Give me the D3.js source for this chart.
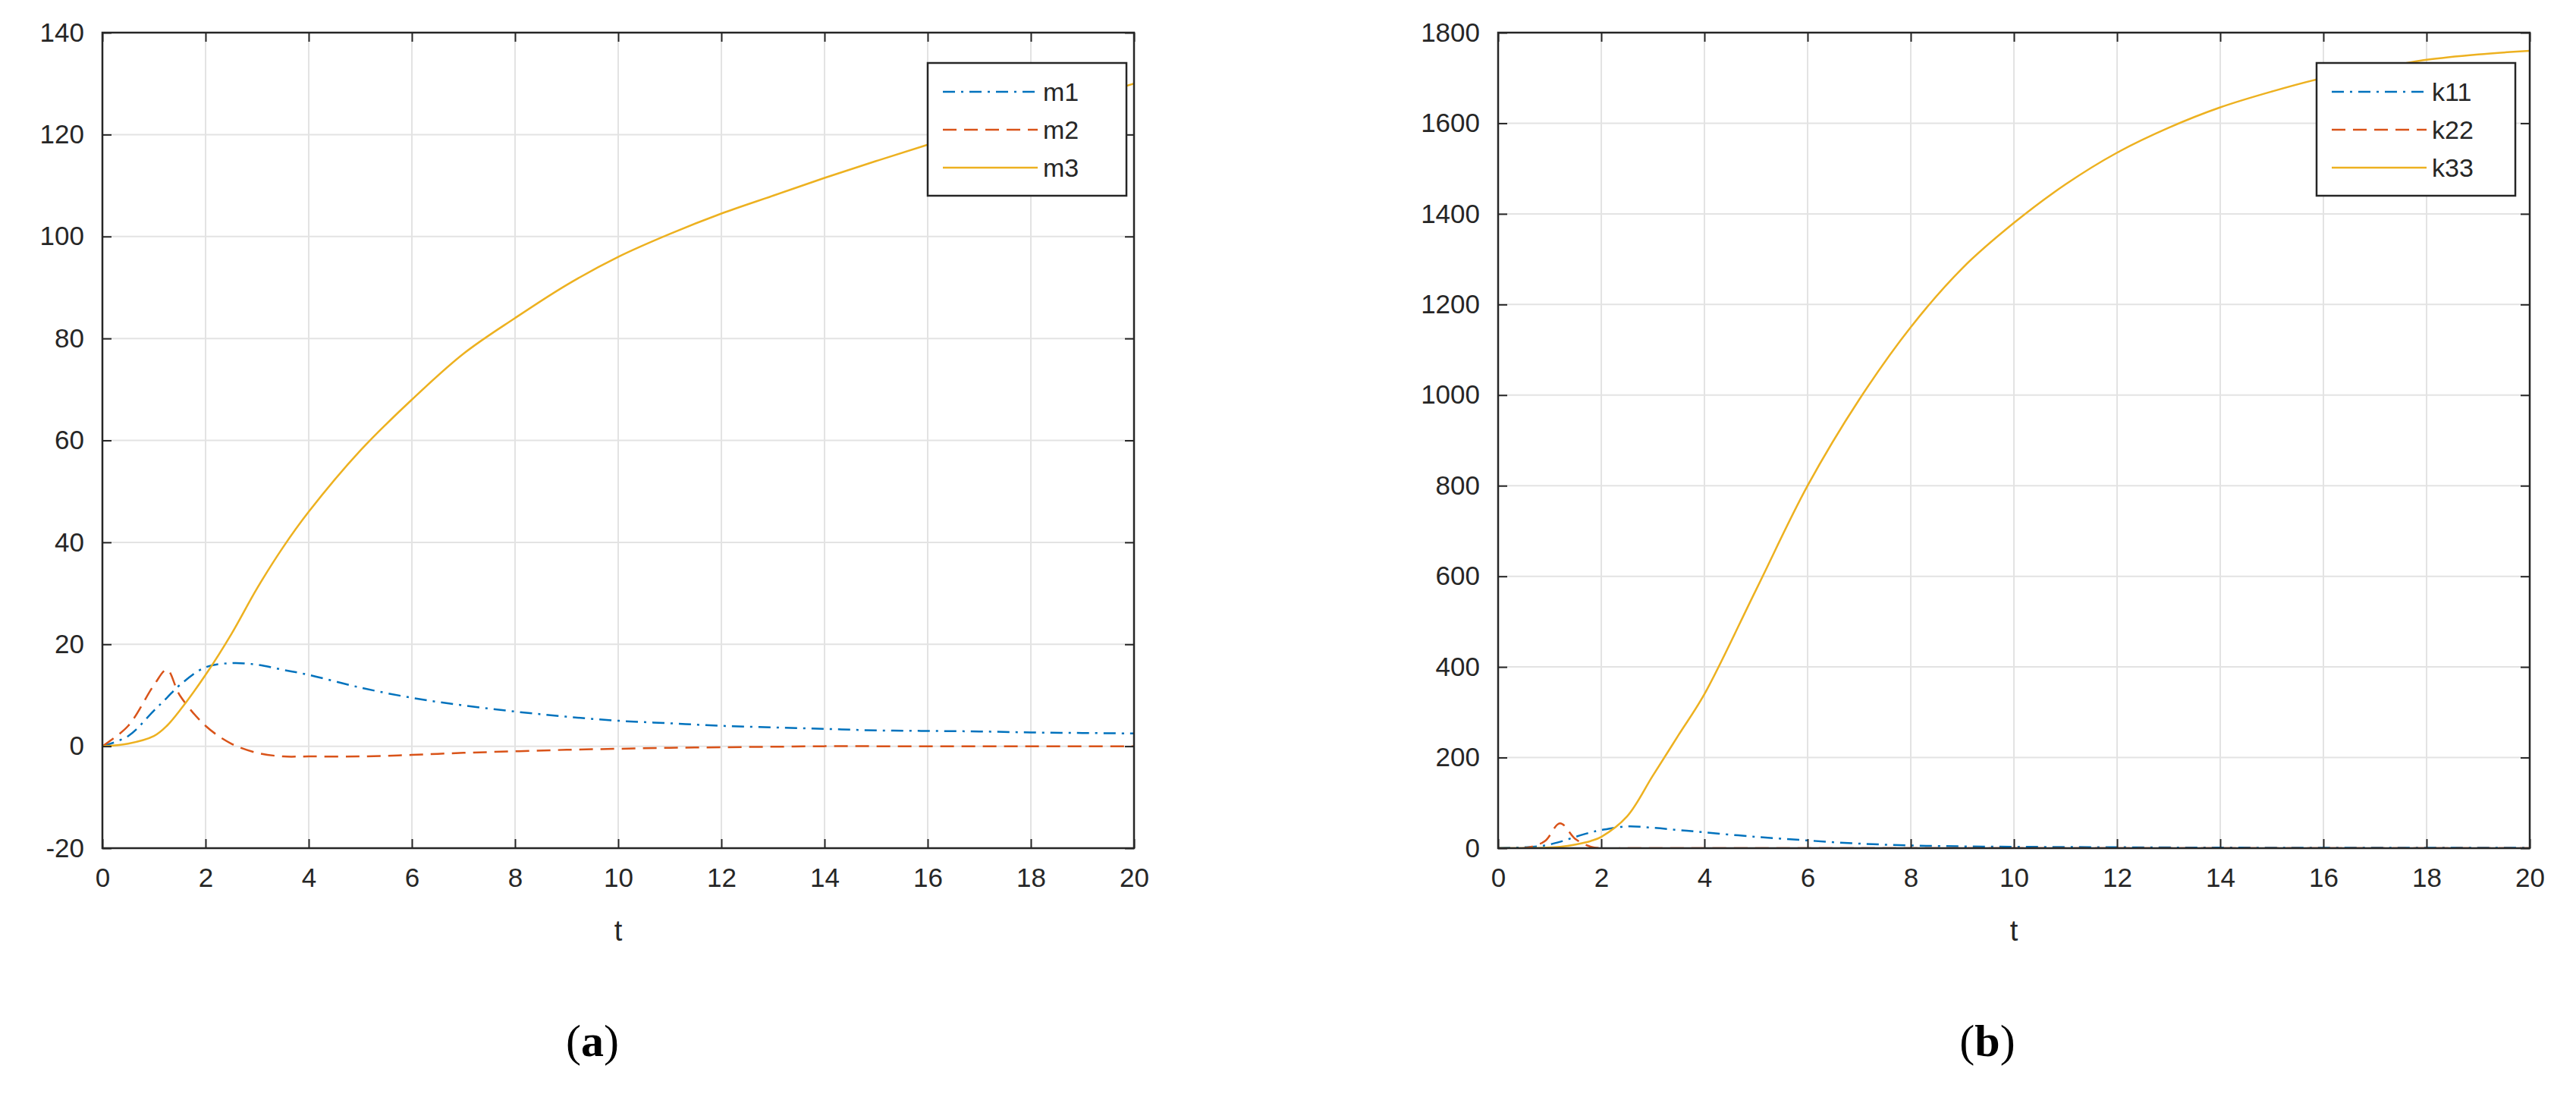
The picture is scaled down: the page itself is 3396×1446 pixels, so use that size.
<!DOCTYPE html>
<html><head><meta charset="utf-8">
<script src="https://cdn.jsdelivr.net/npm/d3@7"></script>
<style>body{margin:0;background:#fff}</style></head>
<body><svg id="c" width="3396" height="1446"></svg>
<script>
const tA=[0,0.5,1,1.25,1.5,2,2.5,3,3.5,4,5,6,7,8,9,10,11,12,13,14,15,16,17,18,19,20];
const m1=[0,2,7,9.5,12,15.5,16.3,16,15,14,11.5,9.5,8,6.8,5.8,5,4.5,4,3.7,3.4,3.1,3,2.9,2.7,2.6,2.5];
const m2=[0,4,12,15,10,4,0.5,-1.3,-2,-2,-2,-1.7,-1.3,-1,-0.7,-0.5,-0.3,-0.2,-0.1,0,0,0,0,0,0,0];
const m3=[0,0.5,2,4,7,14,22,31,39,46,58,68,77,84,90.5,96,100.5,104.5,108,111.5,114.8,118,121,124,127,130];
const tB=[0,0.5,0.9,1.2,1.5,1.8,2,2.5,3,3.5,4,5,6,7,8,9,10,11,12,13,14,15,16,17,18,19,20];
const k11=[0,2,6,14,25,35,40,48,45,40,35,25,17,10,6,4,3,2.5,2,1.5,1.2,1,1,1,1,1,1];
const k22=[0,0,15,55,20,3,0,0,0,0,0,0,0,0,0,0,0,0,0,0,0,0,0,0,0,0,0];
const k33=[0,0,1,3,8,16,25,70,160,250,340,570,800,990,1150,1280,1380,1465,1535,1590,1635,1670,1700,1720,1740,1752,1760];
const xTicks=d3.range(0,21,2);
const yTicksA=d3.range(-20,141,20);
const yTicksB=d3.range(0,1801,200);
const colors=["#0072BD","#D95319","#EDB120"];
const dashes=["16,8,3,8","18,10",null];
const FONT="Arial, Liberation Sans, sans-serif";
const fmt=d=>String(d);

const svg=d3.select("#c");
function panel(x0,x1,t,series,names,yDom,yTicks,legX,label,labX){
  const top=43,bot=1118;
  const x=d3.scaleLinear().domain([0,20]).range([x0,x1]);
  const y=d3.scaleLinear().domain(yDom).range([bot,top]);
  const g=svg.append("g");
  g.selectAll(".gx").data(xTicks).join("line").attr("x1",d=>x(d)).attr("x2",d=>x(d)).attr("y1",top).attr("y2",bot).attr("stroke","#e3e3e3").attr("stroke-width",2);
  g.selectAll(".gy").data(yTicks).join("line").attr("y1",d=>y(d)).attr("y2",d=>y(d)).attr("x1",x0).attr("x2",x1).attr("stroke","#e3e3e3").attr("stroke-width",2);
  const line=d3.line().x((d,i)=>x(t[i])).y(d=>y(d)).curve(d3.curveCatmullRom.alpha(0.5));
  g.append("defs").append("clipPath").attr("id","cp"+x0).append("rect").attr("x",x0).attr("y",top).attr("width",x1-x0).attr("height",bot-top);
  const pl=g.append("g").attr("clip-path",`url(#cp${x0})`);
  series.forEach((s,i)=>pl.append("path").attr("d",line(s)).attr("fill","none").attr("stroke",colors[i]).attr("stroke-width",2.5).attr("stroke-dasharray",dashes[i]));
  const ax=(sel,axis)=>{sel.call(axis);sel.selectAll("text").attr("font-family",FONT).attr("font-size",35).attr("fill","#262626");sel.selectAll("line").attr("stroke","#262626").attr("stroke-width",2);sel.select(".domain").remove();};
  g.append("g").attr("transform",`translate(0,${bot})`).call(s=>ax(s,d3.axisBottom(x).tickValues(xTicks).tickSize(-12).tickPadding(26).tickFormat(fmt)));
  g.append("g").attr("transform",`translate(0,${top})`).call(s=>ax(s,d3.axisTop(x).tickValues(xTicks).tickSize(-12).tickFormat("")));
  g.append("g").attr("transform",`translate(${x0},0)`).call(s=>ax(s,d3.axisLeft(y).tickValues(yTicks).tickSize(-12).tickPadding(24).tickFormat(fmt)));
  g.append("g").attr("transform",`translate(${x1},0)`).call(s=>ax(s,d3.axisRight(y).tickValues(yTicks).tickSize(-12).tickFormat("")));
  g.append("rect").attr("x",x0).attr("y",top).attr("width",x1-x0).attr("height",bot-top).attr("fill","none").attr("stroke","#262626").attr("stroke-width",2.5);
  g.append("text").attr("x",(x0+x1)/2).attr("y",1240).attr("text-anchor","middle").attr("font-family",FONT).attr("font-size",38).attr("fill","#262626").text("t");
  const lw=262,lt=83,lh=175;
  g.append("rect").attr("x",legX).attr("y",lt).attr("width",lw).attr("height",lh).attr("fill","#fff").attr("stroke","#262626").attr("stroke-width",2.5);
  names.forEach((n,i)=>{const yy=lt+38+i*50;
    g.append("line").attr("x1",legX+20).attr("x2",legX+145).attr("y1",yy).attr("y2",yy).attr("stroke",colors[i]).attr("stroke-width",2.5).attr("stroke-dasharray",dashes[i]);
    g.append("text").attr("x",legX+152).attr("y",yy+12).attr("font-family",FONT).attr("font-size",34).attr("fill","#262626").text(n);});
  const lab=g.append("text").attr("x",labX).attr("y",1392).attr("text-anchor","middle").attr("font-family","Liberation Serif, serif").attr("font-size",60).attr("fill","#000");
  lab.append("tspan").text("(");lab.append("tspan").attr("font-weight","bold").text(label);lab.append("tspan").text(")");
}
panel(135,1495,tA,[m1,m2,m3],["m1","m2","m3"],[-20,140],yTicksA,1223,"a",781);
panel(1975,3335,tB,[k11,k22,k33],["k11","k22","k33"],[0,1800],yTicksB,3054,"b",2620);
</script></body></html>
